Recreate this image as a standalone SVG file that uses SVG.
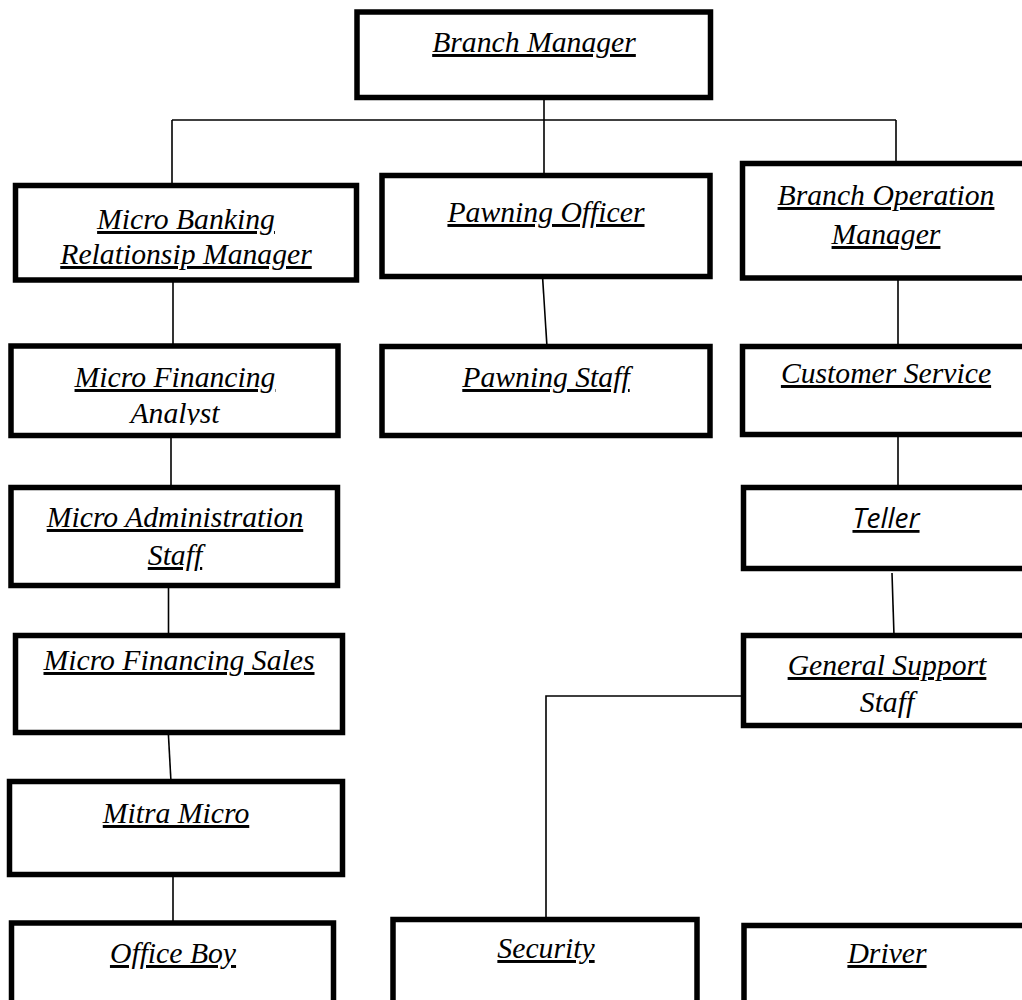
<svg xmlns="http://www.w3.org/2000/svg" width="1022" height="1000" viewBox="0 0 1022 1000">
<style>
.box{fill:#fff;stroke:#000;stroke-width:5.5}
.t{font-family:"Liberation Serif","Times New Roman",serif;font-style:italic;font-size:29.7px;fill:#000;text-anchor:middle}
.u{text-decoration:underline}
.s{font-family:"Open Sans","Noto Sans",sans-serif;font-style:italic;font-size:28px;fill:#000;text-anchor:middle}
.c{fill:none;stroke:#000;stroke-width:1.6}
</style>
<defs>
<clipPath id="clipAnalyst"><rect x="0" y="395" width="360" height="30"/></clipPath>
</defs>
<rect width="1022" height="1000" fill="#fff"/>
<g id="connectors">
<line class="c" x1="544" y1="98" x2="544" y2="176"/>
<line class="c" x1="172" y1="120" x2="896" y2="120"/>
<line class="c" x1="172" y1="120" x2="172" y2="186"/>
<line class="c" x1="896" y1="120" x2="896" y2="164"/>
<line class="c" x1="173" y1="280" x2="173" y2="346"/>
<line class="c" x1="171" y1="435" x2="171" y2="488"/>
<line class="c" x1="168.5" y1="585" x2="168.5" y2="636"/>
<line class="c" x1="168" y1="727" x2="171" y2="782"/>
<line class="c" x1="173" y1="874" x2="173" y2="923"/>
<line class="c" x1="542" y1="268" x2="547" y2="347"/>
<line class="c" x1="898" y1="278" x2="898" y2="347"/>
<line class="c" x1="898" y1="435" x2="898" y2="488"/>
<line class="c" x1="892" y1="573" x2="894" y2="636"/>
<polyline class="c" points="743,696 546,696 546,920"/>
</g>
<g id="branch-manager">
<rect class="box" x="357" y="12" width="353.5" height="85.5"/>
<text class="t u" x="534" y="52">Branch Manager</text>
</g>
<g id="micro-banking-rm">
<rect class="box" x="15.5" y="185.5" width="341" height="94.5"/>
<text class="t u" x="186" y="229">Micro Banking</text>
<text class="t u" x="186" y="264">Relationsip Manager</text>
</g>
<g id="pawning-officer">
<rect class="box" x="382" y="175.5" width="328" height="101"/>
<text class="t u" x="546" y="222">Pawning Officer</text>
</g>
<g id="branch-operation-manager">
<rect class="box" x="742.5" y="163.5" width="290" height="114.5"/>
<text class="t u" x="886" y="205">Branch Operation</text>
<text class="t u" x="886" y="244">Manager</text>
</g>
<g id="micro-financing-analyst">
<rect class="box" x="11" y="346" width="327" height="89.5"/>
<text class="t u" x="175" y="387">Micro Financing</text>
<text class="t" x="175" y="423" clip-path="url(#clipAnalyst)">Analyst</text>
</g>
<g id="pawning-staff">
<rect class="box" x="382" y="346.5" width="328" height="89"/>
<text class="t u" x="546" y="387">Pawning Staff</text>
</g>
<g id="customer-service">
<rect class="box" x="742.5" y="346.5" width="290" height="88"/>
<text class="t u" x="886" y="383">Customer Service</text>
</g>
<g id="micro-administration-staff">
<rect class="box" x="11" y="487.5" width="326.5" height="98"/>
<text class="t u" x="175" y="527">Micro Administration</text>
<text class="t u" x="175" y="565">Staff</text>
</g>
<g id="teller">
<rect class="box" x="743.5" y="487.5" width="290" height="81"/>
<text class="s u" x="886" y="528">Teller</text>
</g>
<g id="micro-financing-sales">
<rect class="box" x="15.5" y="635.5" width="327" height="97"/>
<text class="t u" x="179" y="670">Micro Financing Sales</text>
</g>
<g id="general-support-staff">
<rect class="box" x="743.5" y="635.5" width="290" height="90"/>
<text class="t u" x="887" y="675">General Support</text>
<text class="t" x="887" y="712">Staff</text>
</g>
<g id="mitra-micro">
<rect class="box" x="9.5" y="781.5" width="333" height="93"/>
<text class="t u" x="176" y="823">Mitra Micro</text>
</g>
<g id="office-boy">
<rect class="box" x="11.5" y="923" width="322" height="100"/>
<text class="t u" x="173" y="963">Office Boy</text>
</g>
<g id="security">
<rect class="box" x="393" y="919.5" width="304" height="100"/>
<text class="t u" x="546" y="958">Security</text>
</g>
<g id="driver">
<rect class="box" x="744" y="925.5" width="290" height="100"/>
<text class="t u" x="887" y="963">Driver</text>
</g>
</svg>
